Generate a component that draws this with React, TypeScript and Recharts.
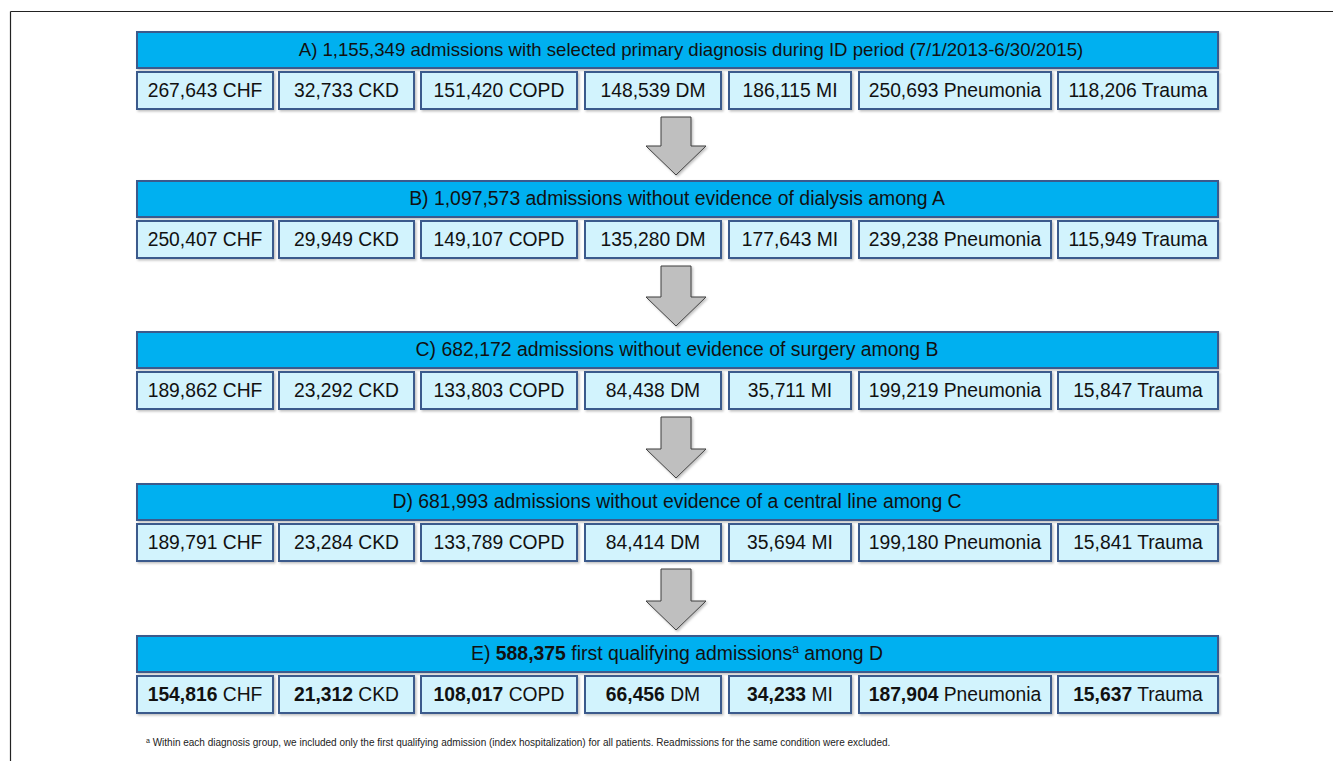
import { ComposedChart, Customized } from "recharts";

const categories = ["CHF", "CKD", "COPD", "DM", "MI", "Pneumonia", "Trauma"];

const stageA = [267643, 32733, 151420, 148539, 186115, 250693, 118206];
const stageB = [250407, 29949, 149107, 135280, 177643, 239238, 115949];
const stageC = [189862, 23292, 133803, 84438, 35711, 199219, 15847];
const stageD = [189791, 23284, 133789, 84414, 35694, 199180, 15841];
const stageE = [154816, 21312, 108017, 66456, 34233, 187904, 15637];

const stageTotals = [1155349, 1097573, 682172, 681993, 588375];
const stageLetters = ["A", "B", "C", "D", "E"];
const stageTexts = [
  " admissions with selected primary diagnosis during ID period (7/1/2013-6/30/2015)",
  " admissions without evidence of dialysis among A",
  " admissions without evidence of surgery among B",
  " admissions without evidence of a central line among C",
  " first qualifying admissions",
];
const stageValues = [stageA, stageB, stageC, stageD, stageE];

const footnote =
  " Within each diagnosis group, we included only the first qualifying admission (index hospitalization) for all patients. Readmissions for the same condition were excluded.";

// layout
const W = 1333;
const H = 761;
const LEFT = 137;
const RIGHT = 1218;
const STAGE_TOP = [32, 181, 332, 484, 636];
const HEAD_CX = [691, 677, 677, 677, 677];
const HEAD_FS = [18.6, 19.4, 19.4, 19.4, 19.4];
const HEAD_H = 36;
const ROW_GAP = 4;
const ROW_H = 37;
const COL_X = [137, 279, 421, 585, 729, 859, 1058];
const COL_W = [136, 135, 156, 136, 122, 192, 160];

const FONT = '"Liberation Sans", Arial, sans-serif';
const HEAD_FILL = "#00B0F0";
const ROW_FILL = "#D2F3FD";
const EDGE = "#3A5A8C";

const fmt = (n: number) => n.toLocaleString("en-US");

function Flow() {
  return (
    <g fontFamily={FONT}>
      <defs>
        <filter id="sh" x="-10%" y="-10%" width="130%" height="130%">
          <feDropShadow dx="1.5" dy="1.5" stdDeviation="1" floodColor="#000" floodOpacity="0.25" />
        </filter>
      </defs>
      {/* outer frame */}
      <line x1={10.5} y1={11.5} x2={W} y2={11.5} stroke="#222" strokeWidth={1.2} />
      <line x1={10.5} y1={11.5} x2={10.5} y2={H} stroke="#222" strokeWidth={1.2} />

      {stageTotals.map((total, i) => {
        const top = STAGE_TOP[i];
        const rowTop = top + HEAD_H + ROW_GAP;
        const last = i === stageTotals.length - 1;
        return (
          <g key={stageLetters[i]}>
            <rect
              x={LEFT}
              y={top}
              width={RIGHT - LEFT}
              height={HEAD_H}
              fill={HEAD_FILL}
              stroke={EDGE}
              strokeWidth={2}
              filter="url(#sh)"
            />
            <text x={HEAD_CX[i]} y={top + HEAD_H / 2 + 6} textAnchor="middle" fontSize={HEAD_FS[i]} fill="#111">
              <tspan>{`${stageLetters[i]}) `}</tspan>
              <tspan fontWeight={last ? "bold" : "normal"}>{fmt(total)}</tspan>
              <tspan>{stageTexts[i]}</tspan>
              {last && (
                <>
                  <tspan fontSize={12} dy={-7}>a</tspan>
                  <tspan dy={7}> among D</tspan>
                </>
              )}
            </text>
            {stageValues[i].map((v, j) => (
              <g key={categories[j]}>
                <rect
                  x={COL_X[j]}
                  y={rowTop}
                  width={COL_W[j]}
                  height={ROW_H}
                  fill={ROW_FILL}
                  stroke={EDGE}
                  strokeWidth={2}
                  filter="url(#sh)"
                />
                <text
                  x={COL_X[j] + COL_W[j] / 2}
                  y={rowTop + ROW_H / 2 + 6}
                  textAnchor="middle"
                  fontSize={19.3}
                  fill="#111"
                >
                  <tspan fontWeight={last ? "bold" : "normal"}>{fmt(v)}</tspan>
                  <tspan>{` ${categories[j]}`}</tspan>
                </text>
              </g>
            ))}
            {!last && (() => {
              const y0 = rowTop + ROW_H + 8;
              const y2 = STAGE_TOP[i + 1] - 6;
              const y1 = y2 - 29;
              const ax = 676;
              const pts = [
                [ax - 15, y0],
                [ax + 15, y0],
                [ax + 15, y1],
                [ax + 30, y1],
                [ax, y2],
                [ax - 30, y1],
                [ax - 15, y1],
              ]
                .map((p) => p.join(","))
                .join(" ");
              return (
                <polygon points={pts} fill="#BFBFBF" stroke="#3F3F3F" strokeWidth={1} filter="url(#sh)" />
              );
            })()}
          </g>
        );
      })}

      <text x={146} y={746} fontSize={10} fill="#222">
        <tspan fontSize={7} dy={-3}>a</tspan>
        <tspan dy={3}>{footnote}</tspan>
      </text>
    </g>
  );
}

export default function App() {
  const data = categories.map((c, i) => ({ name: c, value: stageE[i] }));
  return (
    <div style={{ position: "absolute", left: 0, top: 0, width: W, height: H, background: "#fff" }}>
      <ComposedChart width={W} height={H} data={data} margin={{ top: 0, right: 0, bottom: 0, left: 0 }}>
        <Customized component={<Flow />} />
      </ComposedChart>
    </div>
  );
}
